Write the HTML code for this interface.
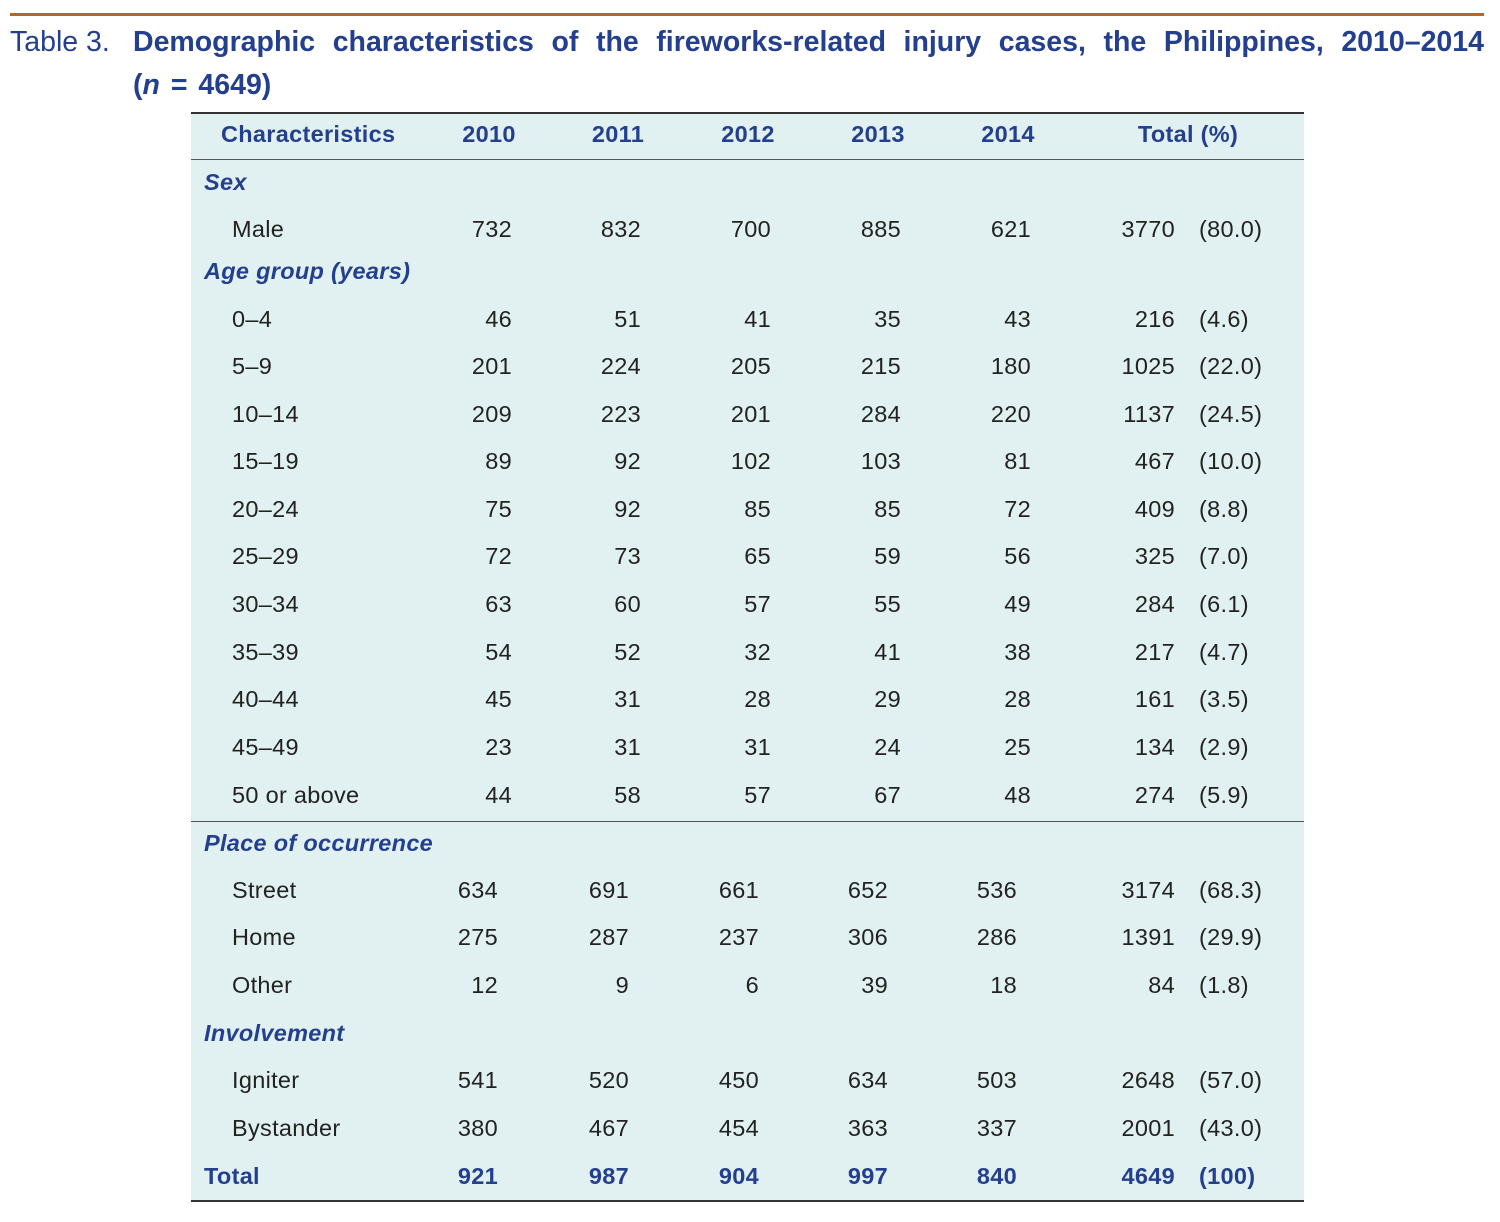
<!DOCTYPE html>
<html><head><meta charset="utf-8"><style>
body{margin:0;width:1500px;height:1222px;background:#fff;position:relative;font-family:"Liberation Sans",Arial,sans-serif;overflow:hidden}
.a{position:absolute;white-space:nowrap}
#top{position:absolute;left:10px;top:13px;width:1474px;height:3px;background:#c0651f}
.t{font-size:28.5px;color:#233f8e;line-height:32px}
#tbl{position:absolute;left:191px;top:112px;width:1113px;height:1090px;background:#e1f1f1;border-top:2px solid #333;border-bottom:2px solid #333;box-sizing:border-box}
.hl{position:absolute;left:191px;width:1113px;height:1px;background:#555}
.r{position:absolute;left:0;width:1500px;height:26px;font-size:23.5px;line-height:26px;color:#222;letter-spacing:0.3px}
.r span{position:absolute;top:0}
.h{color:#233f8e;font-weight:bold}
.s{color:#233f8e;font-weight:bold;font-style:italic}
.n{text-align:right;width:100px}
</style></head><body>
<div id="top"></div>
<div class="a t" style="left:10px;top:26px;font-weight:300">Table 3.</div>
<div class="a t" style="left:133px;top:26px;width:1351px;font-weight:bold;text-align:justify;text-align-last:justify;white-space:normal">Demographic characteristics of the fireworks-related injury cases, the Philippines, 2010–2014</div>
<div class="a t" style="left:133px;top:69px;font-weight:bold;word-spacing:3px">(<i>n</i> = 4649)</div>
<div id="tbl"></div>
<div class="hl" style="top:159px"></div>
<div class="hl" style="top:821px"></div>

<div class="r h" style="top:121px">
<span style="left:221px">Characteristics</span>
<span style="left:439px;width:100px;text-align:center">2010</span>
<span style="left:568px;width:100px;text-align:center">2011</span>
<span style="left:698px;width:100px;text-align:center">2012</span>
<span style="left:828px;width:100px;text-align:center">2013</span>
<span style="left:958px;width:100px;text-align:center">2014</span>
<span style="left:1108px;width:160px;text-align:center">Total (%)</span>
</div>

<div class="r s" style="top:169px"><span style="left:204px">Sex</span></div>
<div class="r" style="top:216px"><span style="left:232px">Male</span><span class="n" style="left:412px">732</span><span class="n" style="left:541px">832</span><span class="n" style="left:671px">700</span><span class="n" style="left:801px">885</span><span class="n" style="left:931px">621</span><span class="n" style="left:1075px">3770</span><span style="left:1199px">(80.0)</span></div>
<div class="r s" style="top:258px"><span style="left:204px">Age group (years)</span></div>
<div class="r" style="top:306px"><span style="left:232px">0–4</span><span class="n" style="left:412px">46</span><span class="n" style="left:541px">51</span><span class="n" style="left:671px">41</span><span class="n" style="left:801px">35</span><span class="n" style="left:931px">43</span><span class="n" style="left:1075px">216</span><span style="left:1199px">(4.6)</span></div>
<div class="r" style="top:353px"><span style="left:232px">5–9</span><span class="n" style="left:412px">201</span><span class="n" style="left:541px">224</span><span class="n" style="left:671px">205</span><span class="n" style="left:801px">215</span><span class="n" style="left:931px">180</span><span class="n" style="left:1075px">1025</span><span style="left:1199px">(22.0)</span></div>
<div class="r" style="top:401px"><span style="left:232px">10–14</span><span class="n" style="left:412px">209</span><span class="n" style="left:541px">223</span><span class="n" style="left:671px">201</span><span class="n" style="left:801px">284</span><span class="n" style="left:931px">220</span><span class="n" style="left:1075px">1137</span><span style="left:1199px">(24.5)</span></div>
<div class="r" style="top:448px"><span style="left:232px">15–19</span><span class="n" style="left:412px">89</span><span class="n" style="left:541px">92</span><span class="n" style="left:671px">102</span><span class="n" style="left:801px">103</span><span class="n" style="left:931px">81</span><span class="n" style="left:1075px">467</span><span style="left:1199px">(10.0)</span></div>
<div class="r" style="top:496px"><span style="left:232px">20–24</span><span class="n" style="left:412px">75</span><span class="n" style="left:541px">92</span><span class="n" style="left:671px">85</span><span class="n" style="left:801px">85</span><span class="n" style="left:931px">72</span><span class="n" style="left:1075px">409</span><span style="left:1199px">(8.8)</span></div>
<div class="r" style="top:543px"><span style="left:232px">25–29</span><span class="n" style="left:412px">72</span><span class="n" style="left:541px">73</span><span class="n" style="left:671px">65</span><span class="n" style="left:801px">59</span><span class="n" style="left:931px">56</span><span class="n" style="left:1075px">325</span><span style="left:1199px">(7.0)</span></div>
<div class="r" style="top:591px"><span style="left:232px">30–34</span><span class="n" style="left:412px">63</span><span class="n" style="left:541px">60</span><span class="n" style="left:671px">57</span><span class="n" style="left:801px">55</span><span class="n" style="left:931px">49</span><span class="n" style="left:1075px">284</span><span style="left:1199px">(6.1)</span></div>
<div class="r" style="top:639px"><span style="left:232px">35–39</span><span class="n" style="left:412px">54</span><span class="n" style="left:541px">52</span><span class="n" style="left:671px">32</span><span class="n" style="left:801px">41</span><span class="n" style="left:931px">38</span><span class="n" style="left:1075px">217</span><span style="left:1199px">(4.7)</span></div>
<div class="r" style="top:686px"><span style="left:232px">40–44</span><span class="n" style="left:412px">45</span><span class="n" style="left:541px">31</span><span class="n" style="left:671px">28</span><span class="n" style="left:801px">29</span><span class="n" style="left:931px">28</span><span class="n" style="left:1075px">161</span><span style="left:1199px">(3.5)</span></div>
<div class="r" style="top:734px"><span style="left:232px">45–49</span><span class="n" style="left:412px">23</span><span class="n" style="left:541px">31</span><span class="n" style="left:671px">31</span><span class="n" style="left:801px">24</span><span class="n" style="left:931px">25</span><span class="n" style="left:1075px">134</span><span style="left:1199px">(2.9)</span></div>
<div class="r" style="top:782px"><span style="left:232px">50 or above</span><span class="n" style="left:412px">44</span><span class="n" style="left:541px">58</span><span class="n" style="left:671px">57</span><span class="n" style="left:801px">67</span><span class="n" style="left:931px">48</span><span class="n" style="left:1075px">274</span><span style="left:1199px">(5.9)</span></div>

<div class="r s" style="top:830px"><span style="left:204px">Place of occurrence</span></div>
<div class="r" style="top:877px"><span style="left:232px">Street</span><span class="n" style="left:398px">634</span><span class="n" style="left:529px">691</span><span class="n" style="left:659px">661</span><span class="n" style="left:788px">652</span><span class="n" style="left:917px">536</span><span class="n" style="left:1075px">3174</span><span style="left:1199px">(68.3)</span></div>
<div class="r" style="top:924px"><span style="left:232px">Home</span><span class="n" style="left:398px">275</span><span class="n" style="left:529px">287</span><span class="n" style="left:659px">237</span><span class="n" style="left:788px">306</span><span class="n" style="left:917px">286</span><span class="n" style="left:1075px">1391</span><span style="left:1199px">(29.9)</span></div>
<div class="r" style="top:972px"><span style="left:232px">Other</span><span class="n" style="left:398px">12</span><span class="n" style="left:529px">9</span><span class="n" style="left:659px">6</span><span class="n" style="left:788px">39</span><span class="n" style="left:917px">18</span><span class="n" style="left:1075px">84</span><span style="left:1199px">(1.8)</span></div>
<div class="r s" style="top:1020px"><span style="left:204px">Involvement</span></div>
<div class="r" style="top:1067px"><span style="left:232px">Igniter</span><span class="n" style="left:398px">541</span><span class="n" style="left:529px">520</span><span class="n" style="left:659px">450</span><span class="n" style="left:788px">634</span><span class="n" style="left:917px">503</span><span class="n" style="left:1075px">2648</span><span style="left:1199px">(57.0)</span></div>
<div class="r" style="top:1115px"><span style="left:232px">Bystander</span><span class="n" style="left:398px">380</span><span class="n" style="left:529px">467</span><span class="n" style="left:659px">454</span><span class="n" style="left:788px">363</span><span class="n" style="left:917px">337</span><span class="n" style="left:1075px">2001</span><span style="left:1199px">(43.0)</span></div>
<div class="r h" style="top:1163px"><span style="left:204px">Total</span><span class="n" style="left:398px">921</span><span class="n" style="left:529px">987</span><span class="n" style="left:659px">904</span><span class="n" style="left:788px">997</span><span class="n" style="left:917px">840</span><span class="n" style="left:1075px">4649</span><span style="left:1199px">(100)</span></div>
</body></html>
